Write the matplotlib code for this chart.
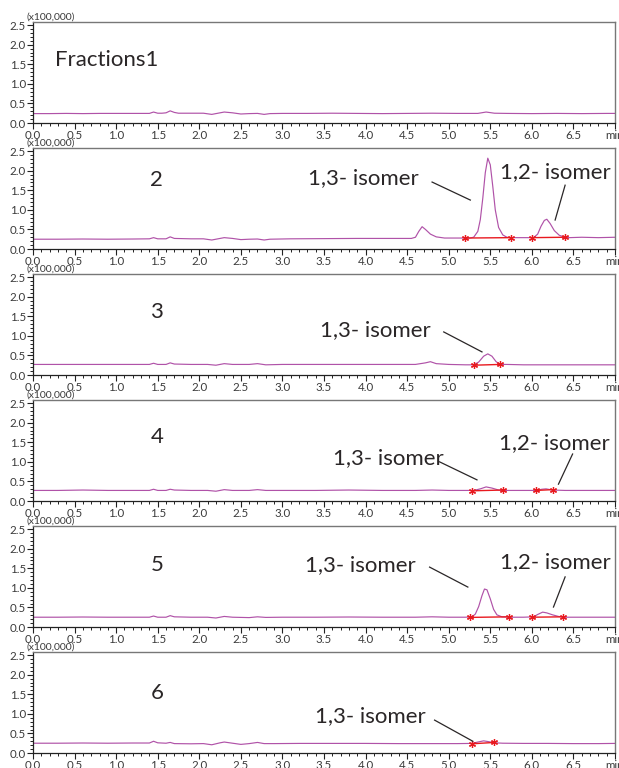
import matplotlib
matplotlib.use("Agg")
import matplotlib.pyplot as plt
from matplotlib.ticker import MultipleLocator

plt.rcParams['font.family'] = ['Lato', 'DejaVu Sans']

# ---------------- data ----------------
panel_labels = ["Fractions1", "2", "3", "4", "5", "6"]
x_ticks = [0.0, 0.5, 1.0, 1.5, 2.0, 2.5, 3.0, 3.5, 4.0, 4.5, 5.0, 5.5, 6.0, 6.5, 7.0]
x_tick_labels = ["0.0", "0.5", "1.0", "1.5", "2.0", "2.5", "3.0", "3.5", "4.0", "4.5",
                 "5.0", "5.5", "6.0", "6.5", "min"]
y_ticks = [0.0, 0.5, 1.0, 1.5, 2.0, 2.5]
y_tick_labels = ["0.0", "0.5", "1.0", "1.5", "2.0", "2.5"]

t1 = [0.0, 0.2, 0.4, 0.6, 0.8, 1.0, 1.2, 1.4, 1.45, 1.5, 1.55, 1.6, 1.65, 1.7, 1.75, 1.9,
      2.05, 2.15, 2.25, 2.3, 2.4, 2.5, 2.6, 2.7, 2.78, 2.85, 3.0, 3.3, 3.6, 3.9, 4.2, 4.5,
      4.8, 5.1, 5.35, 5.45, 5.55, 5.7, 6.0, 6.3, 6.6, 6.9, 7.0]
v1 = [0.24, 0.24, 0.245, 0.24, 0.245, 0.245, 0.245, 0.245, 0.28, 0.25, 0.25, 0.26, 0.31,
      0.27, 0.25, 0.25, 0.25, 0.22, 0.26, 0.28, 0.26, 0.23, 0.24, 0.245, 0.22, 0.24, 0.245,
      0.245, 0.25, 0.245, 0.24, 0.245, 0.25, 0.245, 0.245, 0.28, 0.25, 0.245, 0.24, 0.245,
      0.24, 0.245, 0.245]

t2 = [0.0, 0.3, 0.6, 0.9, 1.2, 1.4, 1.45, 1.5, 1.6, 1.65, 1.7, 1.9, 2.05, 2.15, 2.25, 2.3,
      2.4, 2.5, 2.6, 2.7, 2.78, 2.85, 3.1, 3.5, 3.9, 4.3, 4.55, 4.60, 4.64, 4.68, 4.72, 4.78,
      4.85, 4.95, 5.1, 5.25, 5.30, 5.35, 5.38, 5.41, 5.44, 5.47, 5.50, 5.53, 5.56, 5.60,
      5.65, 5.70, 5.75, 5.9, 6.02, 6.07, 6.11, 6.15, 6.18, 6.22, 6.27, 6.33, 6.40, 6.45,
      6.6, 6.8, 7.0]
v2 = [0.25, 0.25, 0.255, 0.25, 0.255, 0.26, 0.29, 0.26, 0.26, 0.31, 0.27, 0.26, 0.26,
      0.23, 0.27, 0.29, 0.27, 0.24, 0.25, 0.255, 0.23, 0.25, 0.26, 0.265, 0.27, 0.27,
      0.27, 0.30, 0.45, 0.57, 0.50, 0.38, 0.31, 0.28, 0.28, 0.28, 0.30, 0.45, 0.75, 1.30,
      1.95, 2.32, 2.15, 1.60, 1.00, 0.55, 0.36, 0.30, 0.29, 0.29, 0.29, 0.38, 0.58, 0.73,
      0.76, 0.65, 0.47, 0.35, 0.30, 0.29, 0.30, 0.29, 0.30]

t3 = [0.0, 0.3, 0.6, 0.9, 1.2, 1.4, 1.45, 1.5, 1.6, 1.65, 1.7, 1.9, 2.1, 2.2, 2.3, 2.4,
      2.6, 2.7, 2.8, 3.0, 3.4, 3.8, 4.2, 4.6, 4.72, 4.78, 4.85, 5.0, 5.2, 5.3, 5.36, 5.42,
      5.47, 5.52, 5.57, 5.62, 5.7, 5.9, 6.2, 6.5, 6.8, 7.0]
v3 = [0.27, 0.27, 0.27, 0.27, 0.27, 0.27, 0.30, 0.27, 0.27, 0.31, 0.28, 0.27, 0.27, 0.25,
      0.29, 0.27, 0.27, 0.29, 0.26, 0.27, 0.27, 0.27, 0.27, 0.27, 0.31, 0.34, 0.29, 0.27,
      0.26, 0.26, 0.33, 0.48, 0.54, 0.48, 0.34, 0.27, 0.27, 0.26, 0.26, 0.26, 0.26, 0.26]

t4 = [0.0, 0.3, 0.6, 0.9, 1.2, 1.4, 1.45, 1.5, 1.6, 1.65, 1.7, 1.9, 2.1, 2.2, 2.3, 2.4,
      2.6, 2.7, 2.8, 3.0, 3.4, 3.8, 4.2, 4.6, 4.8, 5.0, 5.2, 5.3, 5.38, 5.45, 5.52, 5.6,
      5.7, 5.9, 6.05, 6.12, 6.17, 6.25, 6.4, 6.6, 6.8, 7.0]
v4 = [0.27, 0.27, 0.28, 0.27, 0.27, 0.27, 0.30, 0.27, 0.27, 0.30, 0.28, 0.27, 0.27, 0.25,
      0.29, 0.27, 0.27, 0.29, 0.27, 0.27, 0.27, 0.28, 0.27, 0.27, 0.28, 0.27, 0.27, 0.27,
      0.31, 0.36, 0.33, 0.28, 0.27, 0.27, 0.27, 0.30, 0.31, 0.28, 0.27, 0.27, 0.27, 0.27]

t5 = [0.0, 0.3, 0.6, 0.9, 1.2, 1.4, 1.45, 1.5, 1.6, 1.65, 1.7, 1.9, 2.1, 2.2, 2.3, 2.4,
      2.6, 2.7, 2.8, 3.0, 3.4, 3.8, 4.2, 4.6, 4.8, 5.0, 5.2, 5.28, 5.32, 5.36, 5.40, 5.43,
      5.46, 5.50, 5.54, 5.58, 5.64, 5.75, 5.9, 6.02, 6.07, 6.13, 6.18, 6.25, 6.32, 6.4,
      6.6, 6.8, 7.0]
v5 = [0.25, 0.25, 0.255, 0.25, 0.25, 0.25, 0.28, 0.25, 0.25, 0.29, 0.26, 0.25, 0.25,
      0.23, 0.27, 0.25, 0.24, 0.26, 0.245, 0.25, 0.25, 0.255, 0.25, 0.25, 0.26, 0.25, 0.25,
      0.26, 0.33, 0.52, 0.80, 0.97, 0.95, 0.72, 0.45, 0.31, 0.26, 0.25, 0.25, 0.26, 0.32,
      0.38, 0.36, 0.31, 0.27, 0.25, 0.25, 0.25, 0.25]

t6 = [0.0, 0.3, 0.6, 0.9, 1.2, 1.4, 1.45, 1.5, 1.6, 1.65, 1.7, 1.9, 2.05, 2.15, 2.25, 2.3,
      2.4, 2.5, 2.6, 2.7, 2.78, 2.9, 3.2, 3.6, 4.0, 4.4, 4.8, 5.1, 5.28, 5.35, 5.42, 5.48,
      5.55, 5.65, 5.9, 6.2, 6.5, 6.8, 7.0]
v6 = [0.25, 0.25, 0.255, 0.25, 0.255, 0.255, 0.30, 0.26, 0.25, 0.27, 0.24, 0.235, 0.24,
      0.21, 0.26, 0.28, 0.25, 0.22, 0.24, 0.27, 0.24, 0.24, 0.245, 0.245, 0.245, 0.24,
      0.24, 0.24, 0.245, 0.28, 0.31, 0.29, 0.26, 0.25, 0.245, 0.245, 0.24, 0.24, 0.245]

times = [t1, t2, t3, t4, t5, t6]
signals = [v1, v2, v3, v4, v5, v6]

# integration baselines per panel: (start time, start value, end time, end value)
int_start_t = [[], [5.20, 6.00], [5.30], [5.28, 6.05], [5.25, 6.00], [5.28]]
int_start_v = [[], [0.28, 0.29], [0.25], [0.26, 0.27], [0.245, 0.25], [0.235]]
int_end_t = [[], [5.75, 6.40], [5.62], [5.65, 6.25], [5.73, 6.38], [5.55]]
int_end_v = [[], [0.29, 0.30], [0.27], [0.28, 0.29], [0.26, 0.26], [0.27]]

# annotations: text, text position, arrow line (from -> to)
ann_text = [[], ["1,3- isomer", "1,2- isomer"], ["1,3- isomer"],
            ["1,3- isomer", "1,2- isomer"], ["1,3- isomer", "1,2- isomer"], ["1,3- isomer"]]
ann_tx = [[], [3.31, 5.62], [3.45], [3.61, 5.60], [3.27, 5.62], [3.39]]
ann_ty = [[], [1.81, 1.96], [1.15], [1.10, 1.48], [1.58, 1.66], [0.94]]
ann_lx0 = [[], [4.80, 6.40], [4.94], [4.89, 6.49], [4.77, 6.40], [4.83]]
ann_ly0 = [[], [1.71, 1.63], [1.10], [1.00, 1.20], [1.53, 1.28], [0.84]]
ann_lx1 = [[], [5.26, 6.28], [5.40], [5.34, 6.32], [5.23, 6.26], [5.29]]
ann_ly1 = [[], [1.25, 0.74], [0.59], [0.54, 0.43], [1.02, 0.51], [0.30]]

label_x = [0.26, 1.49, 1.49, 1.49, 1.49, 1.49]
label_y = [1.60, 1.76, 1.60, 1.63, 1.58, 1.53]

# ---------------- figure ----------------
W, H = 619, 768
fig = plt.figure(figsize=(W / 100, H / 100), dpi=100)

left_px, right_px = 33, 615
bottoms_px = [123, 249, 375, 501, 627, 753]
height_px = 101

trace_color = "#b052a8"
red = "#e8191f"
tick_color = "#3a3a3a"
text_color = "#2a2627"

for i in range(6):
    b = bottoms_px[i]
    ax = fig.add_axes([left_px / W, (H - b) / H, (right_px - left_px) / W, height_px / H])
    ax.plot(times[i], signals[i], color=trace_color, lw=0.85)
    for s_t, s_v, e_t, e_v in zip(int_start_t[i], int_start_v[i], int_end_t[i], int_end_v[i]):
        ax.plot([s_t, e_t], [s_v, e_v], color=red, lw=1.0)
        ax.plot([s_t, e_t], [s_v, e_v], ls="none", marker=(6, 2, 0), ms=5,
                mec=red, mew=0.9)
    for txt, tx, ty, x0, y0, x1, y1 in zip(ann_text[i], ann_tx[i], ann_ty[i],
                                             ann_lx0[i], ann_ly0[i], ann_lx1[i], ann_ly1[i]):
        ax.text(tx, ty, txt, fontsize=16, color=text_color, ha="left", va="center")
        ax.plot([x0, x1], [y0, y1], color=text_color, lw=0.9)
    ax.text(label_x[i], label_y[i], panel_labels[i], fontsize=16,
            color=text_color, ha="left" if i == 0 else "center", va="center")

    ax.set_xlim(0, 7.0)
    ax.set_ylim(0, 2.58)
    ax.set_xticks(x_ticks)
    ax.set_xticklabels(x_tick_labels)
    ax.set_yticks(y_ticks)
    ax.set_yticklabels(y_tick_labels)
    ax.xaxis.set_minor_locator(MultipleLocator(0.1))
    ax.yaxis.set_minor_locator(MultipleLocator(0.1))
    ax.tick_params(axis="both", which="major", direction="out", length=4, width=0.8,
                   labelsize=8.3, labelcolor=tick_color, pad=1, color="#222222")
    ax.tick_params(axis="both", which="minor", direction="out", length=2, width=0.7,
                   color="#222222")
    for lab in ax.get_xticklabels():
        lab.set_clip_on(False)
    for side in ["top", "right"]:
        ax.spines[side].set_color("#777777")
        ax.spines[side].set_linewidth(1.0)
    for side in ["left", "bottom"]:
        ax.spines[side].set_color("#222222")
        ax.spines[side].set_linewidth(0.9)
    ax.text(-0.012, 1.0, "(x100,000)", transform=ax.transAxes, fontsize=7.5,
            color=tick_color, ha="left", va="bottom")

fig.savefig("out.png", dpi=100)
